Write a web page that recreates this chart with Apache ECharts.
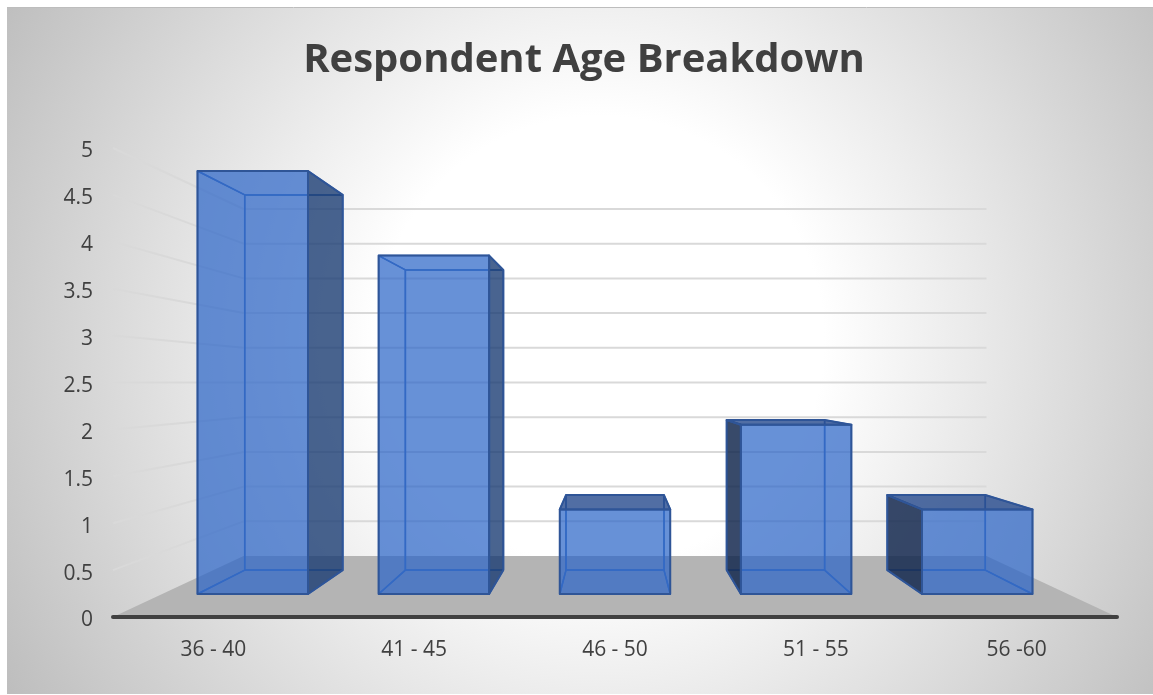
<!DOCTYPE html>
<html>
<head>
<meta charset="utf-8">
<title>Respondent Age Breakdown</title>
<script src="https://cdn.jsdelivr.net/npm/echarts@6/dist/echarts.min.js"></script>
<style>
html,body{margin:0;padding:0;background:#fff}
#chart{width:1153px;height:695px}
</style>
</head>
<body>
<div id="chart"></div>
<script>
const titleText = 'Respondent Age Breakdown';
const ageBands = ['36 - 40', '41 - 45', '46 - 50', '51 - 55', '56 -60'];
const respondents = [5, 4, 1, 2, 1];
const valueTicks = [0, 0.5, 1, 1.5, 2, 2.5, 3, 3.5, 4, 4.5, 5];

// Depth of each plane, as a scale towards the vanishing point (1 = front of the floor).
const BAR_FRONT = 0.902;
const BAR_BACK = 0.8;
const WALL = 0.74;
const EYE = { band: 2, value: 2.5 };
const BAR_HALF_WIDTH = 0.305; // share of one category band

const TEXT = '#404040';
const FONT = '"Open Sans", sans-serif';

function vanishing(api) {
  return api.coord([EYE.band, EYE.value]);
}
function toward(vp, p, s) {
  return [vp[0] + (p[0] - vp[0]) * s, vp[1] + (p[1] - vp[1]) * s];
}
function face(points, fill, stroke, width) {
  return {
    type: 'polygon',
    shape: { points },
    style: { fill, stroke, lineWidth: width, lineJoin: 'round' }
  };
}

// Receding floor behind the category axis
function renderFloor(params, api) {
  const cs = params.coordSys;
  const vp = vanishing(api);
  const y = cs.y + cs.height;
  const l = [cs.x, y], r = [cs.x + cs.width, y];
  return face([l, r, toward(vp, r, WALL), toward(vp, l, WALL)], '#b4b4b4', 'none', 0);
}

// Gridlines running along the left wall and then across the back wall
function renderGridline(params, api) {
  const v = api.value(0);
  if (v === 0) return null;
  const cs = params.coordSys;
  const vp = vanishing(api);
  const y = api.coord([0, v])[1];
  const l = [cs.x, y], r = [cs.x + cs.width, y];
  const a = toward(vp, l, WALL), b = toward(vp, r, WALL);
  return {
    type: 'group',
    children: [
      { type: 'line', shape: { x1: l[0], y1: l[1], x2: a[0], y2: a[1] }, style: { stroke: '#d9d9d9', lineWidth: 2 } },
      { type: 'line', shape: { x1: a[0], y1: a[1], x2: b[0], y2: b[1] }, style: { stroke: '#d9d9d9', lineWidth: 2 } }
    ]
  };
}

// One see-through box per category
function renderBox(params, api) {
  const vp = vanishing(api);
  const band = api.value(0);
  const half = api.size([1, 0])[0] * BAR_HALF_WIDTH;
  const base = api.coord([band, 0]);
  const top = api.coord([band, api.value(1)]);
  const corner = (sx, p, s) => toward(vp, [p[0] + sx * half, p[1]], s);

  const fTL = corner(-1, top, BAR_FRONT), fTR = corner(1, top, BAR_FRONT);
  const fBL = corner(-1, base, BAR_FRONT), fBR = corner(1, base, BAR_FRONT);
  const bTL = corner(-1, top, BAR_BACK), bTR = corner(1, top, BAR_BACK);
  const bBL = corner(-1, base, BAR_BACK), bBR = corner(1, base, BAR_BACK);

  const glass = 'rgba(44,101,200,0.47)';
  const inner = '#3a6dc0';
  const outer = '#2f5597';
  const leftDark = 'rgba(14,27,54,0.7)';
  const rightDark = 'rgba(19,45,87,0.6)';
  const topDark = 'rgba(32,62,120,0.6)';

  const hidden = [face([bTL, bTR, bBR, bBL], glass, inner, 1.5), face([fBL, fBR, bBR, bBL], glass, inner, 1.5)];
  const seen = [];
  const sort = (on, pts, dark) => (on ? seen : hidden).push(on ? face(pts, dark, outer, 2) : face(pts, glass, inner, 1.5));
  sort(bTR[0] > fTR[0], [fTR, bTR, bBR, fBR], rightDark);
  sort(bTL[0] < fTL[0], [fTL, bTL, bBL, fBL], leftDark);
  sort(bTL[1] < fTL[1], [fTL, fTR, bTR, bTL], topDark);

  return {
    type: 'group',
    children: hidden.concat(seen, [face([fTL, fTR, fBR, fBL], glass, outer, 2)])
  };
}

const chart = echarts.init(document.getElementById('chart'), null, { renderer: 'canvas' });
chart.setOption({
  animation: false,
  backgroundColor: '#ffffff',
  graphic: {
    elements: [
      {
        type: 'rect',
        z: -100,
        silent: true,
        shape: { x: 7, y: 8, width: 1146, height: 686 },
        style: {
          stroke: 'none',
          fill: {
            type: 'radial', x: 600, y: 340, r: 700, global: true,
            colorStops: [
              { offset: 0, color: '#ffffff' },
              { offset: 0.32, color: '#ffffff' },
              { offset: 1, color: '#bcbcbc' }
            ]
          }
        }
      },
      {
        type: 'line',
        z: -99,
        silent: true,
        shape: { x1: 7, y1: 7.5, x2: 1153, y2: 7.5 },
        style: { stroke: '#bdbdbd', lineWidth: 1 }
      }
    ]
  },
  title: {
    text: titleText,
    left: 579,
    top: 56,
    textAlign: 'center',
    textVerticalAlign: 'middle',
    textStyle: { fontFamily: FONT, fontSize: 40, fontWeight: 'bold', color: TEXT }
  },
  grid: { left: 113, right: 36, top: 148, bottom: 78, containLabel: false },
  xAxis: {
    type: 'category',
    data: ageBands,
    z: 20,
    axisLine: { show: true, lineStyle: { color: '#404040', width: 4, cap: 'round' } },
    axisTick: { show: false },
    splitLine: { show: false },
    axisLabel: { margin: 23, fontFamily: FONT, fontSize: 21, color: TEXT, interval: 0 }
  },
  yAxis: {
    type: 'value',
    min: 0,
    max: 5,
    interval: 0.5,
    axisLine: { show: false },
    axisTick: { show: false },
    splitLine: { show: false },
    axisLabel: { margin: 20, fontFamily: FONT, fontSize: 21, color: TEXT, verticalAlign: 'top', lineHeight: 7 }
  },
  series: [
    {
      name: 'floor', type: 'custom', renderItem: renderFloor, silent: true, clip: false, z: 1,
      data: [[0, 0]], encode: { x: 0, y: 1 }
    },
    {
      name: 'gridlines', type: 'custom', renderItem: renderGridline, silent: true, clip: false, z: 2,
      data: valueTicks.map(v => [v]), encode: { y: 0 }
    },
    {
      name: 'Respondents', type: 'custom', renderItem: renderBox, clip: false, z: 3,
      data: respondents.map((v, i) => [i, v]), encode: { x: 0, y: 1 }
    }
  ]
});
</script>
</body>
</html>
